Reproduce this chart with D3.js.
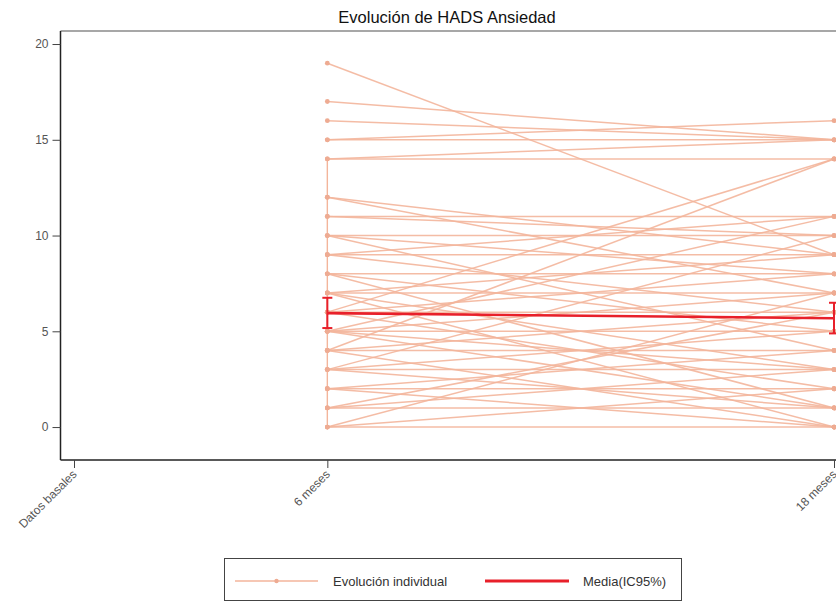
<!DOCTYPE html>
<html>
<head>
<meta charset="utf-8">
<script src="https://cdn.jsdelivr.net/npm/d3@7"></script>
<style>
  html, body { margin: 0; padding: 0; background: #fff; }
  svg { display: block; font-family: "Liberation Sans", Arial, sans-serif; }
</style>
</head>
<body>
<svg id="chart" width="836" height="601"></svg>
<script>
// Time points (months since baseline) and their labels
const timeMonths = [0, 6, 18];
const timeLabels = ["Datos basales", "6 meses", "18 meses"];

// Y axis ticks
const yTicks = [0, 5, 10, 15, 20];

// Individual HADS-anxiety scores: value at 6 months, value at 18 months
const score6m  = [19, 17, 16, 15, 15, 14, 14, 12, 12, 11, 11, 10, 10, 10, 9, 9, 9, 8, 8, 8,
                  7, 7, 7, 7, 6, 6, 6, 6, 5, 5, 5, 5, 5, 4, 4, 4, 4, 3, 3, 3, 3, 2, 2, 2, 1, 1, 1, 0, 0, 0];
const score18m = [9, 15, 15, 16, 15, 15, 14, 9, 7, 11, 10, 10, 8, 4, 11, 9, 6, 8, 5, 1,
                  7, 9, 3, 0, 14, 6, 2, 8, 5, 11, 3, 1, 7, 14, 4, 6, 0, 3, 10, 5, 1, 2, 4, 0, 1, 3, 6, 0, 7, 2];

// Mean with 95% confidence interval at each follow-up
const meanMonths = [6, 18];
const meanValues = [5.95, 5.68];
const ciLower = [5.17, 4.89];
const ciUpper = [6.75, 6.49];

const svg = d3.select("#chart");

const x = d3.scaleLinear().domain([0, 18]).range([74, 834]);
const y = d3.scaleLinear().domain([-1.72, 20.68]).range([460, 31]);

const plotLeft = 60.5, plotRight = 836, plotTop = 31, plotBottom = 460;

// Title
svg.append("text")
  .attr("x", 447).attr("y", 23)
  .attr("text-anchor", "middle")
  .attr("font-size", 16.5)
  .attr("fill", "#111")
  .text("Evolución de HADS Ansiedad");

// Frame: top border
svg.append("line")
  .attr("x1", plotLeft).attr("x2", plotRight)
  .attr("y1", plotTop).attr("y2", plotTop)
  .attr("stroke", "#8a8a8a").attr("stroke-width", 1.5);

// Individual trajectories
const lineColor = "#f3b59b";
const individuals = score6m.map((v, i) => [[6, v], [18, score18m[i]]]);
const lineGen = d3.line().x(d => x(d[0])).y(d => y(d[1]));

const gInd = svg.append("g");
// connector along the 6-month column
const col6 = score6m.filter(v => v <= 14);
gInd.append("path")
  .attr("d", lineGen([[6, d3.max(col6)], [6, d3.min(col6)]]))
  .attr("stroke", lineColor).attr("stroke-width", 1.4).attr("fill", "none");

gInd.selectAll("path.ind")
  .data(individuals)
  .join("path")
  .attr("class", "ind")
  .attr("d", lineGen)
  .attr("fill", "none")
  .attr("stroke", lineColor)
  .attr("stroke-width", 1.5)
  .attr("stroke-opacity", 0.9);

const pts = individuals.flat();
gInd.selectAll("circle")
  .data(pts)
  .join("circle")
  .attr("cx", d => x(d[0]))
  .attr("cy", d => y(d[1]))
  .attr("r", 2.4)
  .attr("fill", "#eeab92");

// Mean line with CI error bars
const red = "#e8202a";
svg.append("path")
  .attr("d", d3.line().x(d => x(d[0])).y(d => y(d[1]))(meanMonths.map((m, i) => [m, meanValues[i]])))
  .attr("stroke", red).attr("stroke-width", 2.6).attr("fill", "none");

const gErr = svg.append("g").attr("stroke", red).attr("stroke-width", 2);
meanMonths.forEach((m, i) => {
  const cx = x(m);
  gErr.append("line").attr("x1", cx).attr("x2", cx).attr("y1", y(ciLower[i])).attr("y2", y(ciUpper[i]));
  gErr.append("line").attr("x1", cx - 5).attr("x2", cx + 5).attr("y1", y(ciLower[i])).attr("y2", y(ciLower[i]));
  gErr.append("line").attr("x1", cx - 5).attr("x2", cx + 5).attr("y1", y(ciUpper[i])).attr("y2", y(ciUpper[i]));
});

// Y axis
const yAxis = svg.append("g")
  .attr("transform", `translate(${plotLeft},0)`)
  .call(d3.axisLeft(y).tickValues(yTicks).tickSize(8).tickPadding(4).tickSizeOuter(0));
yAxis.select(".domain").attr("stroke", "#222").attr("stroke-width", 1.5)
  .attr("d", `M0,${plotTop}V${plotBottom}`);
yAxis.selectAll(".tick line").attr("stroke", "#444");
yAxis.selectAll(".tick text").attr("fill", "#555").attr("font-size", 12)
  .attr("font-family", "'Liberation Sans', Arial, sans-serif");

// X axis
const xAxis = svg.append("g")
  .attr("transform", `translate(0,${plotBottom})`)
  .call(d3.axisBottom(x).tickValues(timeMonths).tickFormat((d, i) => timeLabels[i])
    .tickSize(8).tickSizeOuter(0));
xAxis.select(".domain").attr("stroke", "#222").attr("stroke-width", 1.5)
  .attr("d", `M${plotLeft},0H${plotRight}`);
xAxis.selectAll(".tick line").attr("stroke", "#444");
xAxis.selectAll(".tick text")
  .attr("fill", "#555").attr("font-size", 12)
  .attr("font-family", "'Liberation Sans', Arial, sans-serif")
  .attr("text-anchor", "end")
  .attr("dy", null)
  .attr("y", 0).attr("x", 0)
  .attr("transform", "translate(3,15) rotate(-45)");

// Legend
const lg = svg.append("g");
lg.append("rect")
  .attr("x", 224.5).attr("y", 558.5).attr("width", 457).attr("height", 42)
  .attr("fill", "#fff").attr("stroke", "#444").attr("stroke-width", 1);
lg.append("line").attr("x1", 235).attr("x2", 318).attr("y1", 581).attr("y2", 581)
  .attr("stroke", lineColor).attr("stroke-width", 1.5);
lg.append("circle").attr("cx", 276.5).attr("cy", 581).attr("r", 2.2).attr("fill", "#eeab92");
lg.append("text").attr("x", 333).attr("y", 586).attr("font-size", 13).attr("fill", "#333")
  .text("Evolución individual");
lg.append("line").attr("x1", 485).attr("x2", 569).attr("y1", 581).attr("y2", 581)
  .attr("stroke", red).attr("stroke-width", 3);
lg.append("text").attr("x", 583).attr("y", 586).attr("font-size", 13).attr("fill", "#333")
  .text("Media(IC95%)");
</script>
</body>
</html>
